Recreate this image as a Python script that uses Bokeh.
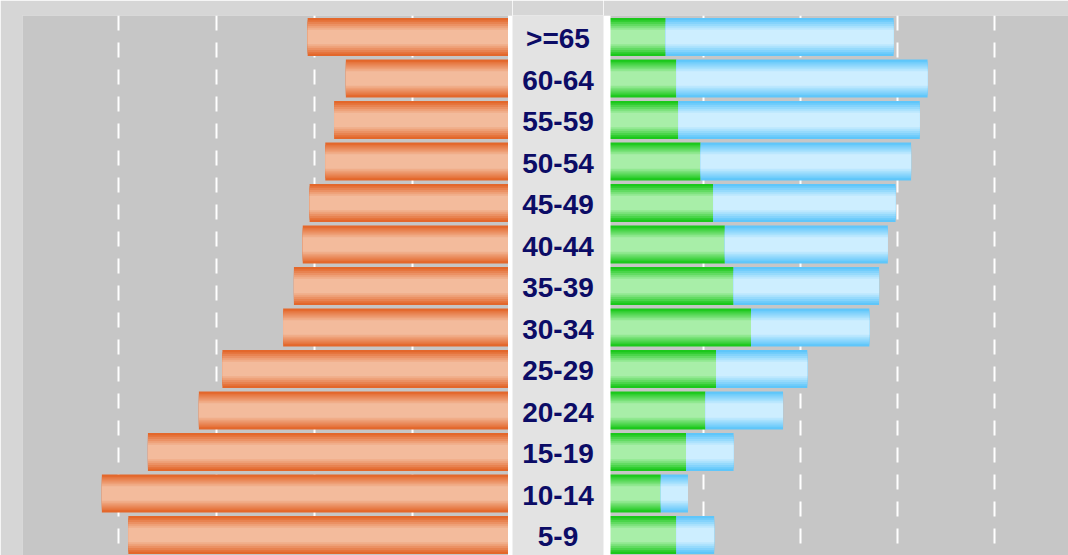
from bokeh.plotting import figure
from bokeh.layouts import row
from bokeh.models import ColumnDataSource, Range1d, Span, FixedTicker, Grid
from bokeh.core.properties import value
from bokeh.embed import file_html
from bokeh.resources import INLINE

# ---------------- data ----------------
ages = [">=65", "60-64", "55-59", "50-54", "45-49", "40-44", "35-39",
        "30-34", "25-29", "20-24", "15-19", "10-14", "5-9"]
left_vals = [2.07, 1.68, 1.80, 1.89, 2.05, 2.12, 2.21, 2.32, 2.94, 3.18, 3.70, 4.17, 3.90]
green_vals = [0.61, 0.72, 0.74, 0.97, 1.10, 1.22, 1.31, 1.49, 1.13, 1.02, 0.82, 0.56, 0.72]
blue_vals = [2.35, 2.59, 2.49, 2.17, 1.88, 1.68, 1.50, 1.22, 0.94, 0.80, 0.49, 0.28, 0.39]
grid_ticks = [1, 2, 3, 4]

# ---------------- styling ----------------
H = 555
BAR_H = 0.92
BG = "#c6c6c6"
MID_BG = "#e3e3e3"
BORDER = "#d6d6d6"
LABEL_COLOR = "#0c0c66"
FRACS = [1.0, 0.88, 0.78, 0.68, 0.58, 0.48, 0.38]


def mix(c1, c2, t):
    a = [int(c1[i:i + 2], 16) for i in (1, 3, 5)]
    b = [int(c2[i:i + 2], 16) for i in (1, 3, 5)]
    return "#%02x%02x%02x" % tuple(round(a[k] + (b[k] - a[k]) * t) for k in range(3))


def shades(dark, light):
    n = len(FRACS)
    return [mix(dark, light, i / (n - 1)) for i in range(n)]


idx = list(range(len(ages)))
src = ColumnDataSource(dict(
    idx=idx, age=ages, left=left_vals, green=green_vals, blue=blue_vals,
    total=[g + b for g, b in zip(green_vals, blue_vals)],
))

y_range = Range1d(12.494, -0.518)


def make_fig(width, x_range, bg, min_left=0):
    p = figure(width=width, height=H, x_range=x_range, y_range=y_range,
               output_backend="svg", toolbar_location=None,
               x_axis_location=None, y_axis_location=None,
               min_border=0, min_border_left=min_left, min_border_top=15,
               min_border_right=0, min_border_bottom=0,
               background_fill_color=bg, border_fill_color=BORDER)
    p.outline_line_color = None
    p.center = [r for r in p.center if not isinstance(r, Grid)]
    return p


def add_grid(p):
    g = Grid(dimension=0, ticker=FixedTicker(ticks=grid_ticks),
             grid_line_color="white", grid_line_width=2, grid_line_dash="15 12")
    p.add_layout(g)


def gradient_bars(p, left, right, dark, light):
    for f, c in zip(FRACS, shades(dark, light)):
        p.hbar(y="idx", left=left, right=right, height=BAR_H * f,
               source=src, fill_color=c, line_color=None)


# ---------------- left panel ----------------
pl = make_fig(512, Range1d(4.98, -0.0204), BG, min_left=22)
add_grid(pl)
gradient_bars(pl, 0, "left", "#e3672b", "#f3bb9c")
pl.add_layout(Span(location=0, dimension="height", line_color="white", line_width=5))

# ---------------- center panel ----------------
pc = make_fig(91, Range1d(-1, 1), MID_BG)
pc.text(x=0, y="idx", text="age", source=src,
        text_font=value("Liberation Sans"), text_font_style="bold",
        text_font_size="28px", text_align="center", text_baseline="middle",
        text_color=LABEL_COLOR, y_offset=2)

# ---------------- right panel ----------------
pr = make_fig(465, Range1d(-0.0309, 4.763), BG)
add_grid(pr)
gradient_bars(pr, 0, "green", "#1bc81b", "#a8eea8")
gradient_bars(pr, "green", "total", "#5fc6fa", "#cdeeff")
pr.add_layout(Span(location=0, dimension="height", line_color="white", line_width=8))

layout = row(pl, pc, pr, spacing=0)

open("out.html", "w").write(file_html(layout, INLINE))
